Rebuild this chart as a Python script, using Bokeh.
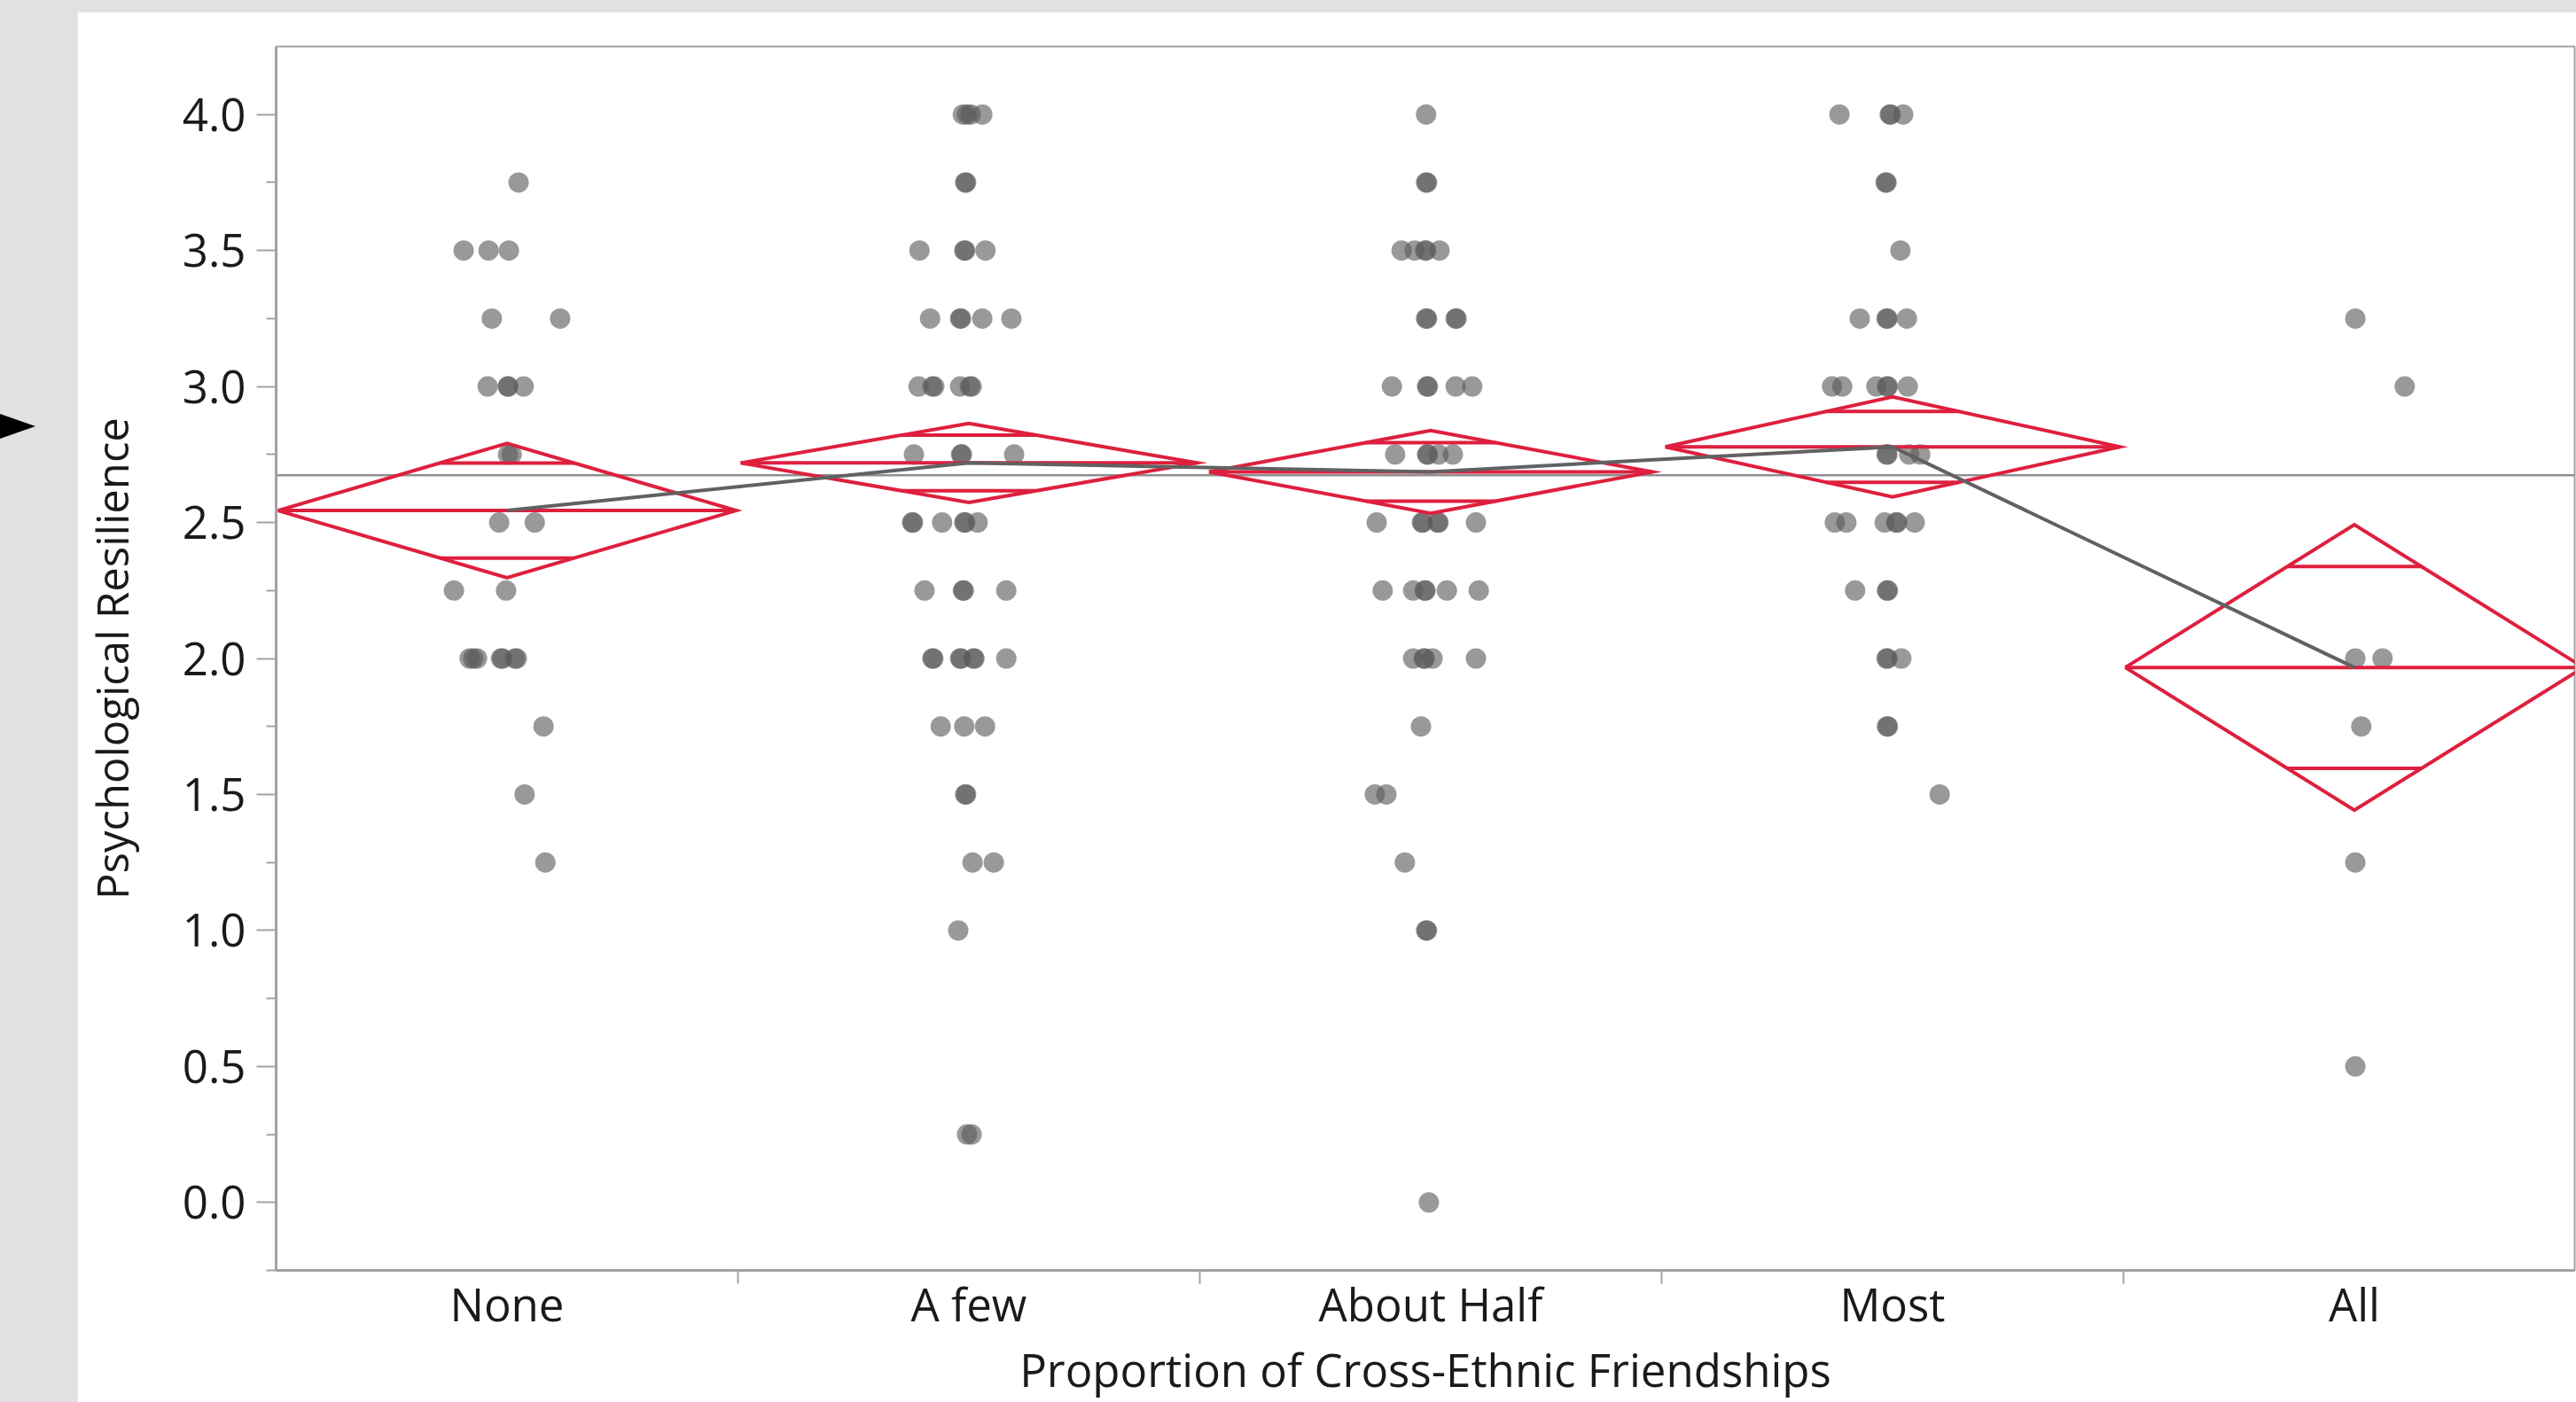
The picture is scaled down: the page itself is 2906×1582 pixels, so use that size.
import numpy as np
from bokeh.plotting import figure
from bokeh.models import FixedTicker, Range1d, Div, Span, NumeralTickFormatter
from bokeh.layouts import row
from bokeh.embed import file_html
from bokeh.resources import INLINE

# ---------------- data ----------------
categories = ["None", "A few", "About Half", "Most", "All"]

none_y = [3.75, 3.5, 3.5, 3.5, 3.25, 3.25, 3.0, 3.0, 3.0, 3.0, 2.75, 2.75, 2.5, 2.5,
          2.25, 2.25, 2.0, 2.0, 2.0, 2.0, 2.0, 2.0, 2.0, 1.75, 1.5, 1.25]
none_jit = [0.025, -0.094, -0.040, 0.004, -0.033, 0.115, -0.042, 0.002, 0.002, 0.036,
            0.002, 0.010, -0.017, 0.060, -0.115, -0.002, -0.081, -0.073, -0.065, -0.013,
            -0.010, 0.017, 0.021, 0.079, 0.038, 0.083]

afew_y = [4.0, 4.0, 4.0, 4.0, 3.75, 3.75, 3.5, 3.5, 3.5, 3.5, 3.25, 3.25, 3.25, 3.25, 3.25,
          3.0, 3.0, 3.0, 3.0, 3.0, 3.0, 2.75, 2.75, 2.75, 2.75, 2.5, 2.5, 2.5, 2.5, 2.5, 2.5,
          2.25, 2.25, 2.25, 2.25, 2.0, 2.0, 2.0, 2.0, 2.0, 2.0, 2.0, 1.75, 1.75, 1.75,
          1.5, 1.5, 1.25, 1.25, 1.0, 0.25, 0.25]
afew_jit = [-0.013, -0.004, 0.004, 0.029, -0.008, -0.006, -0.107, -0.010, -0.008, 0.036,
            -0.084, -0.019, -0.017, 0.029, 0.092, -0.109, -0.079, -0.075, -0.019, 0.002, 0.006,
            -0.119, -0.017, -0.015, 0.098, -0.123, -0.121, -0.058, -0.010, -0.008, 0.019,
            -0.096, -0.013, -0.011, 0.081, -0.079, -0.077, -0.019, -0.017, 0.010, 0.012, 0.081,
            -0.061, -0.010, 0.035, -0.008, -0.006, 0.008, 0.054, -0.023, -0.004, 0.006]

half_y = [4.0, 3.75, 3.75, 3.5, 3.5, 3.5, 3.5, 3.5, 3.25, 3.25, 3.25, 3.25,
          3.0, 3.0, 3.0, 3.0, 3.0, 2.75, 2.75, 2.75, 2.75, 2.75, 2.5, 2.5, 2.5, 2.5, 2.5, 2.5,
          2.25, 2.25, 2.25, 2.25, 2.25, 2.25, 2.0, 2.0, 2.0, 2.0, 2.0, 1.75, 1.5, 1.5,
          1.25, 1.0, 1.0, 0.0]
half_jit = [-0.010, -0.010, -0.008, -0.063, -0.035, -0.012, -0.010, 0.019, -0.010, -0.008,
            0.054, 0.056, -0.084, -0.008, -0.006, 0.054, 0.090, -0.077, -0.008, -0.006, 0.017,
            0.048, -0.117, -0.019, -0.017, 0.015, 0.017, 0.098, -0.104, -0.038, -0.013, -0.011,
            0.035, 0.104, -0.038, -0.015, -0.013, 0.004, 0.098, -0.021, -0.121, -0.096,
            -0.056, -0.010, -0.008, -0.004]

most_y = [4.0, 4.0, 4.0, 4.0, 3.75, 3.75, 3.5, 3.25, 3.25, 3.25, 3.25,
          3.0, 3.0, 3.0, 3.0, 3.0, 3.0, 2.75, 2.75, 2.75, 2.75, 2.5, 2.5, 2.5, 2.5, 2.5, 2.5,
          2.25, 2.25, 2.25, 2.0, 2.0, 2.0, 1.75, 1.75, 1.5]
most_jit = [-0.115, -0.006, -0.004, 0.023, -0.015, -0.013, 0.017, -0.071, -0.013, -0.011, 0.031,
            -0.131, -0.109, -0.035, -0.012, -0.010, 0.033, -0.013, -0.011, 0.036, 0.060,
            -0.125, -0.100, -0.017, 0.008, 0.010, 0.048, -0.081, -0.012, -0.010,
            -0.013, -0.011, 0.019, -0.012, -0.010, 0.102]

all_y = [3.25, 3.0, 2.0, 2.0, 1.75, 1.25, 0.5]
all_jit = [0.002, 0.109, 0.002, 0.061, 0.015, 0.002, 0.002]

group_means = [2.544, 2.719, 2.686, 2.778, 1.967]
ci_half = [0.247, 0.145, 0.152, 0.184, 0.525]
diamond_halfwidth = [0.496, 0.494, 0.480, 0.492, 0.496]
grand_mean = 2.674

y_ticks = [0.0, 0.5, 1.0, 1.5, 2.0, 2.5, 3.0, 3.5, 4.0]
y_minor_ticks = [-0.25, 0.25, 0.75, 1.25, 1.75, 2.25, 2.75, 3.25, 3.75]
x_label = "Proportion of Cross-Ethnic Friendships"
y_label = "Psychological Resilience"

# ---------------- styling ----------------
FONT = "Open Sans"
TXT = "#1a1a1a"
AXIS_GRAY = "#a3a3a3"
RED = "#de1f3e"

n_cat = len(categories)
centers = [i + 0.5 for i in range(n_cat)]

p = figure(width=2819, height=1569,
           x_range=Range1d(0, 4.977), y_range=Range1d(-0.25, 4.25),
           output_backend="svg", toolbar_location=None,
           min_border_left=224, min_border_top=39, min_border_bottom=149, min_border_right=2,
           background_fill_color="white", border_fill_color="white",
           outline_line_color=AXIS_GRAY, outline_line_width=2)
p.margin = (13, 0, 0, 0)
p.xgrid.visible = False
p.ygrid.visible = False

# y axis
p.yaxis.ticker = FixedTicker(ticks=y_ticks, minor_ticks=y_minor_ticks)
p.yaxis.formatter = NumeralTickFormatter(format="0.0")
p.yaxis.major_tick_out = 22
p.yaxis.major_tick_in = 0
p.yaxis.minor_tick_out = 11
p.yaxis.minor_tick_in = 0
p.yaxis.major_label_standoff = 12
p.yaxis.axis_label = y_label
p.yaxis.axis_label_standoff = 44

# x axis
p.xaxis.ticker = FixedTicker(ticks=centers, minor_ticks=[i + 1.0 for i in range(n_cat - 1)])
p.xaxis.major_label_overrides = {c: lab for c, lab in zip(centers, categories)}
p.xaxis.major_tick_out = 0
p.xaxis.major_tick_in = 0
p.xaxis.minor_tick_out = 15
p.xaxis.minor_tick_in = 0
p.xaxis.major_label_standoff = -13
p.xaxis.axis_label = x_label
p.xaxis.axis_label_standoff = 1

for ax in (p.xaxis[0], p.yaxis[0]):
    ax.axis_line_color = AXIS_GRAY
    ax.axis_line_width = 3
    ax.major_tick_line_color = AXIS_GRAY if ax is p.yaxis[0] else None
    ax.major_tick_line_width = 2
    ax.minor_tick_line_color = AXIS_GRAY
    ax.minor_tick_line_width = 2
    ax.major_label_text_font = FONT
    ax.major_label_text_font_size = "51px"
    ax.major_label_text_color = TXT
    ax.axis_label_text_font = FONT
    ax.axis_label_text_font_style = "normal"
    ax.axis_label_text_color = TXT
p.xaxis.axis_label_text_font_size = "51px"
p.yaxis.axis_label_text_font_size = "49px"

# grand mean reference line
p.add_layout(Span(location=grand_mean, dimension="width", line_color="#8f8f8f",
                  line_width=2.5, level="underlay"))

# points
groups_y = [none_y, afew_y, half_y, most_y, all_y]
groups_j = [none_jit, afew_jit, half_jit, most_jit, all_jit]
px, py = [], []
for c, ys, js in zip(centers, groups_y, groups_j):
    for yv, jv in zip(ys, js):
        px.append(c + jv)
        py.append(yv)
p.scatter(px, py, size=23, fill_color="#5a5a5a", fill_alpha=0.62, line_color=None)

# means diamonds
dia_xs, dia_ys, seg = [], [], []
k = 1 / np.sqrt(2)
for c, m, h, w in zip(centers, group_means, ci_half, diamond_halfwidth):
    dia_xs.append([c - w, c, c + w, c, c - w])
    dia_ys.append([m, m + h, m, m - h, m])
    seg.append((c - w, m, c + w, m))
    ow = w * (1 - k)
    seg.append((c - ow, m + h * k, c + ow, m + h * k))
    seg.append((c - ow, m - h * k, c + ow, m - h * k))
p.multi_line(dia_xs, dia_ys, line_color=RED, line_width=4, line_join="miter")
p.segment([s[0] for s in seg], [s[1] for s in seg], [s[2] for s in seg], [s[3] for s in seg],
          line_color=RED, line_width=4)

# line connecting means
p.line(centers, group_means, line_color="#616161", line_width=4)

arrow = Div(text='<div style="width:0;height:0;border-top:14px solid transparent;'
                 'border-bottom:14px solid transparent;border-left:40px solid #000;'
                 'margin-top:467px"></div>',
            width=87, height=1582, margin=0)

layout = row(arrow, p, styles={"background-color": "#e1e1e1"})

open("out.html", "w").write(file_html(layout, INLINE))
